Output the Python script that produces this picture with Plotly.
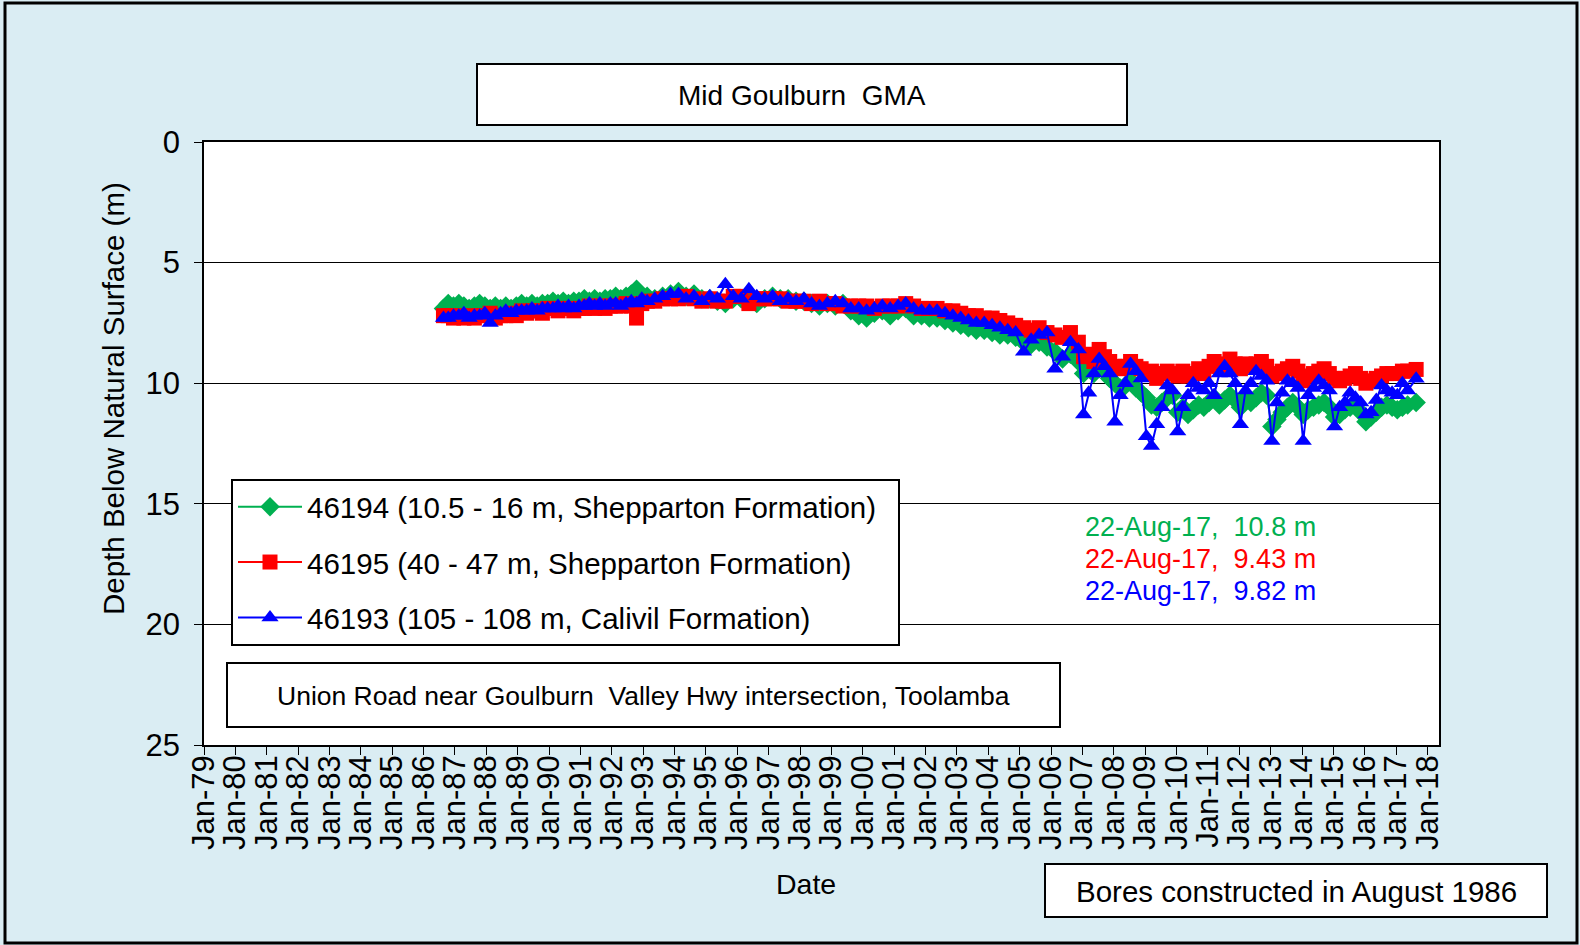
import plotly.graph_objects as go

# ---------------- data ----------------
dates = [
    "1986-08-20", "1986-10-15", "1986-12-15",
    "1987-02-15", "1987-04-15", "1987-06-15", "1987-08-15", "1987-10-15", "1987-12-15",
    "1988-02-15", "1988-04-15", "1988-06-15", "1988-08-15", "1988-10-15", "1988-12-15",
    "1989-02-15", "1989-04-15", "1989-06-15", "1989-08-15", "1989-10-15", "1989-12-15",
    "1990-02-15", "1990-04-15", "1990-06-15", "1990-08-15", "1990-10-15", "1990-12-15",
    "1991-02-15", "1991-04-15", "1991-06-15", "1991-08-15", "1991-10-15", "1991-12-15",
    "1992-02-15", "1992-04-15", "1992-06-15", "1992-08-15", "1992-10-15", "1992-12-15",
    "1993-02-15", "1993-05-15", "1993-08-15", "1993-11-15",
    "1994-02-15", "1994-05-15", "1994-08-15", "1994-11-15",
    "1995-02-15", "1995-05-15", "1995-08-15", "1995-11-15",
    "1996-02-15", "1996-05-15", "1996-08-15", "1996-11-15",
    "1997-02-15", "1997-05-15", "1997-08-15", "1997-11-15",
    "1998-02-15", "1998-05-15", "1998-08-15", "1998-11-15",
    "1999-02-15", "1999-05-15", "1999-08-15", "1999-11-15",
    "2000-02-15", "2000-05-15", "2000-08-15", "2000-11-15",
    "2001-02-15", "2001-05-15", "2001-08-15", "2001-11-15",
    "2002-02-15", "2002-05-15", "2002-08-15", "2002-11-15",
    "2003-02-15", "2003-05-15", "2003-08-15", "2003-11-15",
    "2004-02-15", "2004-05-15", "2004-08-15", "2004-11-15",
    "2005-02-15", "2005-05-15", "2005-08-15", "2005-11-15",
    "2006-02-15", "2006-05-15", "2006-08-15", "2006-11-15",
    "2007-01-15", "2007-03-15", "2007-05-15", "2007-07-15", "2007-09-15", "2007-11-15",
    "2008-01-15", "2008-03-15", "2008-05-15", "2008-07-15", "2008-09-15", "2008-11-15",
    "2009-01-15", "2009-03-15", "2009-05-15", "2009-07-15", "2009-09-15", "2009-11-15",
    "2010-01-15", "2010-03-15", "2010-05-15", "2010-07-15", "2010-09-15", "2010-11-15",
    "2011-01-15", "2011-03-15", "2011-05-15", "2011-07-15", "2011-09-15", "2011-11-15",
    "2012-01-15", "2012-03-15", "2012-05-15", "2012-07-15", "2012-09-15", "2012-11-15",
    "2013-01-15", "2013-03-15", "2013-05-15", "2013-07-15", "2013-09-15", "2013-11-15",
    "2014-01-15", "2014-03-15", "2014-05-15", "2014-07-15", "2014-09-15", "2014-11-15",
    "2015-01-15", "2015-03-15", "2015-05-15", "2015-07-15", "2015-09-15", "2015-11-15",
    "2016-01-15", "2016-03-15", "2016-05-15", "2016-07-15", "2016-09-15", "2016-11-15",
    "2017-01-15", "2017-03-15", "2017-05-15", "2017-08-22",
]

depth_46194 = [
    6.9, 6.7, 6.8,
    6.7, 6.8, 6.9, 6.8, 6.7, 6.8,
    6.9, 6.8, 6.9, 6.8, 6.9, 6.8,
    6.7, 6.8, 6.7, 6.8, 6.7, 6.7,
    6.6, 6.7, 6.6, 6.7, 6.6, 6.6,
    6.5, 6.6, 6.5, 6.6, 6.5, 6.5,
    6.4, 6.5, 6.4, 6.3, 6.1, 6.4,
    6.4, 6.5, 6.4, 6.3,
    6.2, 6.4, 6.3, 6.5,
    6.5, 6.6, 6.7, 6.5,
    6.5, 6.6, 6.7, 6.5,
    6.4, 6.5, 6.5, 6.6,
    6.6, 6.7, 6.8, 6.7,
    6.8, 6.7, 7.0, 7.2,
    7.3, 7.1, 7.0, 7.2,
    7.0, 6.9, 7.2, 7.2,
    7.3, 7.3, 7.4, 7.5,
    7.6, 7.7, 7.8, 7.8,
    7.9, 8.0, 8.0, 8.1,
    8.3, 8.4, 8.3, 8.5,
    8.7, 9.0, 8.8, 9.1,
    9.6, 9.3, 9.6, 9.4, 9.5, 9.8,
    10.0, 10.2, 10.1, 9.9, 10.2, 10.4,
    10.6, 10.9, 11.0, 10.8, 10.6, 10.5,
    11.2, 11.0, 11.3, 11.1, 10.9, 11.0,
    10.8, 10.6, 10.9, 10.7, 10.5, 10.7,
    11.0, 10.6, 10.8, 10.6, 10.4, 10.5,
    11.8, 11.5, 11.2, 11.0, 10.8, 11.0,
    11.3, 11.1, 11.0, 10.9, 10.8, 11.0,
    11.4, 11.3, 11.1, 11.0, 10.9, 11.2,
    11.6, 11.4, 11.2, 11.0, 10.9, 11.0,
    11.1, 11.0, 10.9, 10.8,
]

depth_46195 = [
    7.2, 7.2, 7.3,
    7.2, 7.3, 7.2, 7.3, 7.2, 7.2,
    7.1, 7.3, 7.2, 7.2, 7.1, 7.2,
    7.0, 7.1, 7.0, 7.0, 7.1, 6.9,
    6.9, 7.0, 6.9, 6.9, 7.0, 6.9,
    6.9, 6.8, 6.9, 6.8, 6.9, 6.8,
    6.8, 6.8, 6.7, 6.8, 7.3, 6.7,
    6.6, 6.6, 6.5, 6.5,
    6.5, 6.4, 6.5, 6.6,
    6.5, 6.6, 6.6, 6.4,
    6.4, 6.7, 6.5, 6.5,
    6.5, 6.5, 6.6, 6.6,
    6.6, 6.7, 6.6, 6.7,
    6.7, 6.8, 6.8, 6.8,
    6.8, 6.9, 6.8, 6.8,
    6.8, 6.7, 6.8, 6.9,
    6.9, 6.9, 7.0, 7.0,
    7.1, 7.2, 7.2, 7.3,
    7.3, 7.4, 7.5, 7.6,
    7.7, 7.8, 7.7, 7.9,
    8.0, 8.1, 7.9, 8.3,
    8.9, 8.8, 9.1, 8.6, 8.9, 9.1,
    9.3, 9.4, 9.3, 9.1, 9.3, 9.4,
    9.6, 9.5, 9.8, 9.6, 9.5, 9.6,
    9.7, 9.5, 9.7, 9.6, 9.4, 9.6,
    9.3, 9.1, 9.3, 9.2, 9.0, 9.2,
    9.4, 9.2, 9.3, 9.2, 9.1, 9.3,
    9.7, 9.6, 9.5, 9.4, 9.3, 9.5,
    9.9, 9.7, 9.6, 9.5, 9.4, 9.6,
    9.8, 9.9, 9.8, 9.7, 9.6, 9.8,
    10.0, 9.9, 9.8, 9.7, 9.6, 9.6,
    9.6, 9.5, 9.5, 9.43,
]

depth_46193 = [
    7.3, 7.3, 7.2,
    7.2, 7.1, 7.3, 7.2, 7.2, 7.1,
    7.5, 7.2, 7.1, 7.0, 7.1, 7.0,
    7.0, 7.0, 6.9, 7.0, 6.9, 6.9,
    6.9, 6.8, 6.9, 6.8, 6.9, 6.8,
    6.8, 6.7, 6.8, 6.7, 6.8, 6.7,
    6.7, 6.8, 6.7, 6.6, 6.7, 6.5,
    6.6, 6.5, 6.4, 6.3,
    6.3, 6.5, 6.4, 6.6,
    6.4, 6.5, 5.9, 6.4,
    6.5, 6.1, 6.4, 6.5,
    6.4, 6.6, 6.5, 6.6,
    6.5, 6.7, 6.8, 6.7,
    6.6, 6.7, 6.9, 6.9,
    7.0, 6.9, 6.8, 6.9,
    6.8, 6.7, 6.9, 7.0,
    7.0, 7.0, 7.1, 7.2,
    7.3, 7.4, 7.5, 7.5,
    7.6, 7.7, 7.8, 7.9,
    8.7, 8.2, 8.0, 7.9,
    9.4, 8.9, 8.3, 8.6,
    11.3, 10.4, 9.6, 9.0, 9.3, 9.6,
    11.6, 10.5, 10.0, 9.2, 9.5, 9.8,
    12.2, 12.6, 11.7, 11.0, 10.1, 10.3,
    12.0, 11.0, 10.5, 10.0, 10.2, 10.3,
    10.0, 10.5, 9.6, 9.3, 9.6, 10.0,
    11.7, 10.3, 10.0, 9.5, 9.7, 9.9,
    12.4, 10.8, 10.4, 9.9, 10.0, 10.2,
    12.4, 10.5, 10.2, 9.9, 10.1, 10.3,
    11.8, 11.0, 10.8, 10.4, 10.6, 10.8,
    11.3, 11.2, 10.7, 10.1, 10.3, 10.4,
    10.5, 10.0, 10.3, 9.82,
]

series_names = [
    "46194 (10.5 - 16 m, Shepparton Formation)\u00a0\u00a0",
    "46195 (40 - 47 m, Shepparton Formation)",
    "46193 (105 - 108 m, Calivil Formation)",
]
series_colors = ["#00B050", "#FF0000", "#0000FF"]
series_symbols = ["diamond", "square", "triangle-up"]
series_sizes = [15, 15, 15]
series_depths = [depth_46194, depth_46195, depth_46193]

latest_labels = ["22-Aug-17,  10.8 m", "22-Aug-17,  9.43 m", "22-Aug-17,  9.82 m"]

tick_years = list(range(1979, 2019))
tick_vals = [f"{y}-01-01" for y in tick_years]
tick_text = [f"Jan-{y % 100:02d}" for y in tick_years]

# ---------------- layout helpers (pixel -> paper) ----------------
W, H = 1580, 945
L, R, T, B = 204, 141, 142, 200
PW, PH = W - L - R, H - T - B


def px(x):
    return (x - L) / PW


def py(y):
    return (H - B - y) / PH


FONT = "Liberation Sans, Arial, sans-serif"

fig = go.Figure()
for i in range(3):
    fig.add_trace(go.Scatter(
        x=dates, y=series_depths[i], name=series_names[i],
        mode="lines+markers",
        line=dict(color=series_colors[i], width=2),
        marker=dict(symbol=series_symbols[i], size=series_sizes[i],
                    color=series_colors[i]),
        legendgroup=f"g{i}",
    ))

shapes = [
    # outer border
    dict(type="rect", xref="paper", yref="paper", x0=px(5), x1=px(1577),
         y0=py(943), y1=py(3), line=dict(color="black", width=3), layer="below"),
    # title box
    dict(type="rect", xref="paper", yref="paper", x0=px(477), x1=px(1127),
         y0=py(125), y1=py(64), line=dict(color="black", width=2),
         fillcolor="white", layer="above"),
    # location box
    dict(type="rect", xref="paper", yref="paper", x0=px(227), x1=px(1060),
         y0=py(727), y1=py(663), line=dict(color="black", width=2),
         fillcolor="white", layer="above"),
    # construction box
    dict(type="rect", xref="paper", yref="paper", x0=px(1045), x1=px(1547),
         y0=py(917), y1=py(864), line=dict(color="black", width=2),
         fillcolor="white", layer="above"),
]


def label(text, x, y, size, color="black", xanchor="center", angle=0):
    return dict(text=text, x=px(x), y=py(y), xref="paper", yref="paper",
                xanchor=xanchor, yanchor="middle", showarrow=False,
                textangle=angle,
                font=dict(size=size, color=color, family=FONT))


annotations = [
    label("Mid Goulburn  GMA", 802, 95, 28),
    label("Union Road near Goulburn  Valley Hwy intersection, Toolamba", 643, 696, 26.5),
    label("Bores constructed in August 1986", 1296, 891, 29.5),
    label("Date", 806, 884, 28.5),
    label("Depth Below Natural Surface (m)", 114, 399, 29.5, angle=-90),
]
for i in range(3):
    annotations.append(label(latest_labels[i], 1083, 527 + 32 * i, 27,
                             color=series_colors[i], xanchor="left"))

fig.update_layout(
    width=W, height=H,
    margin=dict(l=L, r=R, t=T, b=B, autoexpand=False),
    paper_bgcolor="#DAEDF3",
    plot_bgcolor="white",
    font=dict(family=FONT, color="black", size=28),
    showlegend=True,
    legend=dict(
        x=px(231), y=py(479), xanchor="left", yanchor="top",
        bgcolor="white", bordercolor="black", borderwidth=2,
        font=dict(size=29.5, family=FONT, color="black"),
        tracegroupgap=14, itemwidth=64,
    ),
    shapes=shapes,
    annotations=annotations,
    xaxis=dict(
        type="date", range=["1979-01-01", "2018-05-15"],
        tickmode="array", tickvals=tick_vals, ticktext=tick_text,
        tickangle=-90, ticks="outside", ticklen=8, tickcolor="black",
        ticklabelstandoff=-12,
        tickfont=dict(size=31, family=FONT, color="black"),
        showgrid=False, zeroline=False,
        showline=True, linecolor="black", linewidth=1.5, mirror=True,
    ),
    yaxis=dict(
        range=[25, 0], tickvals=[0, 5, 10, 15, 20, 25],
        ticks="outside", ticklen=8, tickcolor="black",
        ticklabelstandoff=8,
        tickfont=dict(size=31, family=FONT, color="black"),
        showgrid=True, gridcolor="black", gridwidth=1,
        zeroline=False,
        showline=True, linecolor="black", linewidth=1.5, mirror=True,
    ),
)

fig.write_html("out.html", config={"displayModeBar": False},
               post_script="document.body.style.margin='0px';")
